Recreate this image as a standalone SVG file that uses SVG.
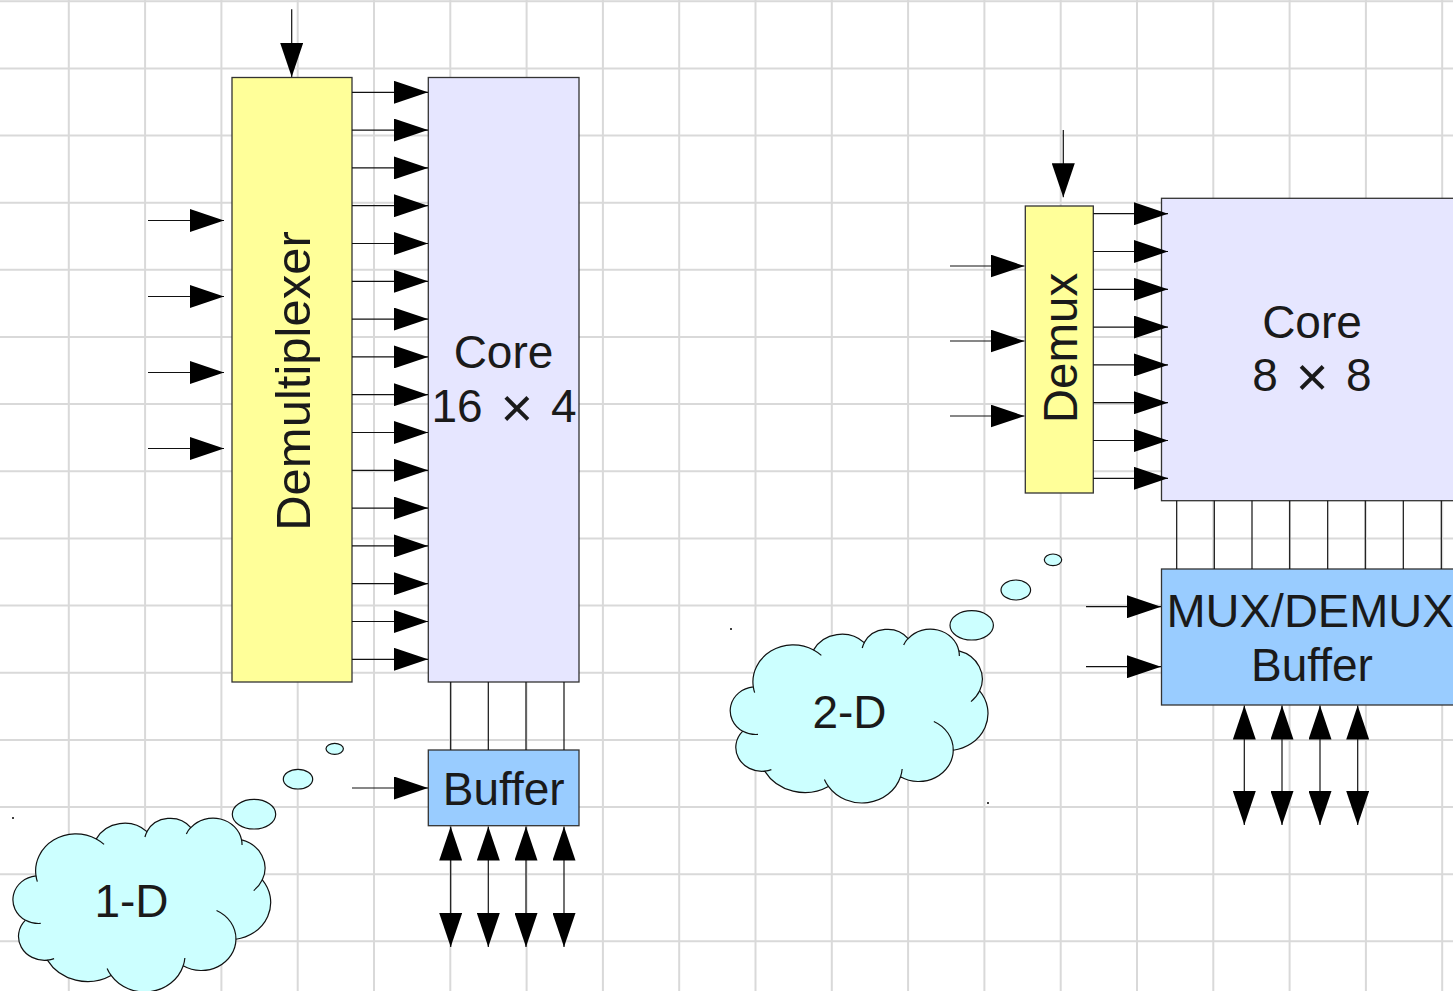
<svg xmlns="http://www.w3.org/2000/svg" width="1453" height="991" viewBox="0 0 1453 991">
<style>
.grid line{stroke:#d9d9d9;stroke-width:2}
.box{stroke:#333;stroke-width:1.3}
.demux{fill:#ffff99}
.core{fill:#e6e6ff}
.buf{fill:#99ccff}
.lbl{font-family:"Liberation Sans",Arial,sans-serif;fill:#1a1a1a;font-size:46px;text-anchor:middle}
.w{stroke:#111;stroke-width:1.2;fill:none}
.a{marker-end:url(#ah)}
.b{marker-start:url(#ah);marker-end:url(#ah)}
.cl{fill:#ccffff;stroke:#111;stroke-width:1.2}
.tl{fill:none;stroke:#111;stroke-width:1.2}
.x{font-size:56px}
</style>
<defs>
<marker id="ah" markerUnits="userSpaceOnUse" markerWidth="34" markerHeight="23" viewBox="0 0 34 23" refX="34" refY="11.5" orient="auto-start-reverse"><path d="M0,0 L34,11.5 L0,23 Z" fill="#000"/></marker>
<g id="cloud">
<path class="cl" vector-effect="non-scaling-stroke" d="M3900,14370 A6753,9190 0 0 1 14000,5192 A5333,7267 0 0 1 22470,3380 A4365,5945 0 0 1 29830,2380 A4857,6595 0 0 1 38324,5426 A5333,7273 0 0 1 41798,15354 A6775,9220 0 0 1 37384,30097 A5785,7867 0 0 1 28550,36680 A6752,9215 0 0 1 16478,39090 A7720,10543 0 0 1 5810,35288 A4360,5918 0 0 1 2140,25372 A4345,5945 0 0 1 3900,14370 Z"/>
<path class="tl" vector-effect="non-scaling-stroke" d="M4693,26177 A4345,5945 0 0 1 2160,25380 M6928,34899 A4360,5918 0 0 1 5820,35281 M16478,39090 A6752,9215 0 0 1 15810,37348 M28827,34751 A6752,9215 0 0 1 28560,36659 M34129,22954 A5785,7867 0 0 1 37384,30097 M41798,15354 A5333,7273 0 0 1 40351,18029 M38324,5426 A4857,6595 0 0 1 38400,6689 M29078,3952 A4857,6595 0 0 1 29820,2340 M22141,4720 A4365,5945 0 0 1 22500,3331 M14000,5192 A6753,9190 0 0 1 15298,6538 M4127,15789 A6753,9190 0 0 1 3900,14370"/>
</g>
</defs>
<rect width="1453" height="991" fill="#fff"/>
<g class="grid">
<line x1="68.8" y1="0" x2="68.8" y2="991"/><line x1="145.1" y1="0" x2="145.1" y2="991"/><line x1="221.4" y1="0" x2="221.4" y2="991"/><line x1="297.7" y1="0" x2="297.7" y2="991"/><line x1="374" y1="0" x2="374" y2="991"/><line x1="450.3" y1="0" x2="450.3" y2="991"/><line x1="526.6" y1="0" x2="526.6" y2="991"/><line x1="602.9" y1="0" x2="602.9" y2="991"/><line x1="679.2" y1="0" x2="679.2" y2="991"/><line x1="755.5" y1="0" x2="755.5" y2="991"/><line x1="831.8" y1="0" x2="831.8" y2="991"/><line x1="908.1" y1="0" x2="908.1" y2="991"/><line x1="984.4" y1="0" x2="984.4" y2="991"/><line x1="1060.7" y1="0" x2="1060.7" y2="991"/><line x1="1137" y1="0" x2="1137" y2="991"/><line x1="1213.3" y1="0" x2="1213.3" y2="991"/><line x1="1289.6" y1="0" x2="1289.6" y2="991"/><line x1="1365.9" y1="0" x2="1365.9" y2="991"/><line x1="1442.2" y1="0" x2="1442.2" y2="991"/>
<line x1="0" y1="1.2" x2="1453" y2="1.2"/><line x1="0" y1="68.4" x2="1453" y2="68.4"/><line x1="0" y1="135.5" x2="1453" y2="135.5"/><line x1="0" y1="202.7" x2="1453" y2="202.7"/><line x1="0" y1="269.8" x2="1453" y2="269.8"/><line x1="0" y1="337" x2="1453" y2="337"/><line x1="0" y1="404.1" x2="1453" y2="404.1"/><line x1="0" y1="471.3" x2="1453" y2="471.3"/><line x1="0" y1="538.4" x2="1453" y2="538.4"/><line x1="0" y1="605.6" x2="1453" y2="605.6"/><line x1="0" y1="672.7" x2="1453" y2="672.7"/><line x1="0" y1="739.9" x2="1453" y2="739.9"/><line x1="0" y1="807" x2="1453" y2="807"/><line x1="0" y1="874.2" x2="1453" y2="874.2"/><line x1="0" y1="941.3" x2="1453" y2="941.3"/>
</g>
<g id="demux1d"><rect class="box demux" x="232" y="77.5" width="120" height="604.5"/><text class="lbl" style="font-size:49px" transform="translate(310,381) rotate(-90)">Demultiplexer</text></g>
<g id="core1d"><rect class="box core" x="428.3" y="77.5" width="150.7" height="604.5"/><text class="lbl" x="503.5" y="368">Core</text><text class="lbl" x="504" y="421.7" word-spacing="5">16 <tspan class="x" dy="5">×</tspan><tspan dy="-5"> 4</tspan></text></g>
<g id="buffer1d"><rect class="box buf" x="428.3" y="750" width="150.7" height="75.7"/><text class="lbl" x="503.7" y="805">Buffer</text></g>
<g id="cloud1d"><use href="#cloud" transform="translate(12.7,818) scale(0.0059722,0.0040278)"/><ellipse class="cl" cx="254" cy="814.2" rx="21.7" ry="14.8"/><ellipse class="cl" cx="298" cy="779.2" rx="14.7" ry="9.8"/><ellipse class="cl" cx="334.7" cy="748.8" rx="8.7" ry="5.5"/><circle cx="13" cy="818" r="1" fill="#000"/><text class="lbl" x="131.5" y="917">1-D</text></g>
<g id="demux2d"><rect class="box demux" x="1025.3" y="206" width="68" height="287"/><text class="lbl" style="font-size:47.5px" transform="translate(1077,348) rotate(-90)">Demux</text></g>
<g id="core2d"><rect class="box core" x="1161.5" y="198.3" width="302" height="302.4"/><text class="lbl" x="1312" y="338.3">Core</text><text class="lbl" x="1312" y="391" word-spacing="5">8 <tspan class="x" dy="5">×</tspan><tspan dy="-5"> 8</tspan></text></g>
<g id="mux2d"><rect class="box buf" x="1161.5" y="569" width="302" height="136"/><text class="lbl" style="font-size:47px" x="1310" y="626.5">MUX/DEMUX</text><text class="lbl" x="1312" y="680.7">Buffer</text></g>
<g id="cloud2d"><use href="#cloud" transform="translate(730,629) scale(0.0059722,0.0040278)"/><ellipse class="cl" cx="971.7" cy="625.3" rx="21.7" ry="14.7"/><ellipse class="cl" cx="1015.8" cy="590" rx="14.8" ry="10"/><ellipse class="cl" cx="1053" cy="559.8" rx="8.7" ry="5.8"/><circle cx="731" cy="629" r="1" fill="#000"/><circle cx="988" cy="803" r="1" fill="#000"/><text class="lbl" x="849.5" y="728.3">2-D</text></g>
<g id="connectors" class="w">
<line class="a" x1="291.7" y1="9.3" x2="291.7" y2="77"/>
<line class="a" x1="148" y1="220.5" x2="224" y2="220.5"/><line class="a" x1="148" y1="296.5" x2="224" y2="296.5"/><line class="a" x1="148" y1="372.5" x2="224" y2="372.5"/><line class="a" x1="148" y1="448.5" x2="224" y2="448.5"/>
<line class="a" x1="352" y1="92.3" x2="428" y2="92.3"/><line class="a" x1="352" y1="130.1" x2="428" y2="130.1"/><line class="a" x1="352" y1="167.9" x2="428" y2="167.9"/><line class="a" x1="352" y1="205.7" x2="428" y2="205.7"/><line class="a" x1="352" y1="243.5" x2="428" y2="243.5"/><line class="a" x1="352" y1="281.3" x2="428" y2="281.3"/><line class="a" x1="352" y1="319.1" x2="428" y2="319.1"/><line class="a" x1="352" y1="356.9" x2="428" y2="356.9"/><line class="a" x1="352" y1="394.7" x2="428" y2="394.7"/><line class="a" x1="352" y1="432.5" x2="428" y2="432.5"/><line class="a" x1="352" y1="470.3" x2="428" y2="470.3"/><line class="a" x1="352" y1="508.1" x2="428" y2="508.1"/><line class="a" x1="352" y1="545.9" x2="428" y2="545.9"/><line class="a" x1="352" y1="583.7" x2="428" y2="583.7"/><line class="a" x1="352" y1="621.5" x2="428" y2="621.5"/><line class="a" x1="352" y1="659.3" x2="428" y2="659.3"/>
<line x1="450.7" y1="682" x2="450.7" y2="750"/><line x1="488.3" y1="682" x2="488.3" y2="750"/><line x1="526" y1="682" x2="526" y2="750"/><line x1="564" y1="682" x2="564" y2="750"/>
<line class="a" x1="352" y1="788" x2="428" y2="788"/>
<line class="b" x1="450.7" y1="826.5" x2="450.7" y2="947"/><line class="b" x1="488.3" y1="826.5" x2="488.3" y2="947"/><line class="b" x1="526" y1="826.5" x2="526" y2="947"/><line class="b" x1="564" y1="826.5" x2="564" y2="947"/>
<line class="a" x1="1063.3" y1="130" x2="1063.3" y2="197.3"/>
<line class="a" x1="950" y1="266" x2="1024.5" y2="266"/><line class="a" x1="950" y1="341" x2="1024.5" y2="341"/><line class="a" x1="950" y1="416" x2="1024.5" y2="416"/>
<line class="a" x1="1093.3" y1="213.7" x2="1168" y2="213.7"/><line class="a" x1="1093.3" y1="251.5" x2="1168" y2="251.5"/><line class="a" x1="1093.3" y1="289.3" x2="1168" y2="289.3"/><line class="a" x1="1093.3" y1="327.1" x2="1168" y2="327.1"/><line class="a" x1="1093.3" y1="364.9" x2="1168" y2="364.9"/><line class="a" x1="1093.3" y1="402.7" x2="1168" y2="402.7"/><line class="a" x1="1093.3" y1="440.5" x2="1168" y2="440.5"/><line class="a" x1="1093.3" y1="478.3" x2="1168" y2="478.3"/>
<line x1="1176.7" y1="500.7" x2="1176.7" y2="569"/><line x1="1214.3" y1="500.7" x2="1214.3" y2="569"/><line x1="1252" y1="500.7" x2="1252" y2="569"/><line x1="1289.7" y1="500.7" x2="1289.7" y2="569"/><line x1="1327.7" y1="500.7" x2="1327.7" y2="569"/><line x1="1365.3" y1="500.7" x2="1365.3" y2="569"/><line x1="1403.3" y1="500.7" x2="1403.3" y2="569"/><line x1="1441.3" y1="500.7" x2="1441.3" y2="569"/>
<line class="a" x1="1086" y1="606.7" x2="1161" y2="606.7"/><line class="a" x1="1086" y1="666.7" x2="1161" y2="666.7"/>
<line class="b" x1="1244.3" y1="705.5" x2="1244.3" y2="825"/><line class="b" x1="1282" y1="705.5" x2="1282" y2="825"/><line class="b" x1="1320" y1="705.5" x2="1320" y2="825"/><line class="b" x1="1357.7" y1="705.5" x2="1357.7" y2="825"/>
</g>
</svg>
